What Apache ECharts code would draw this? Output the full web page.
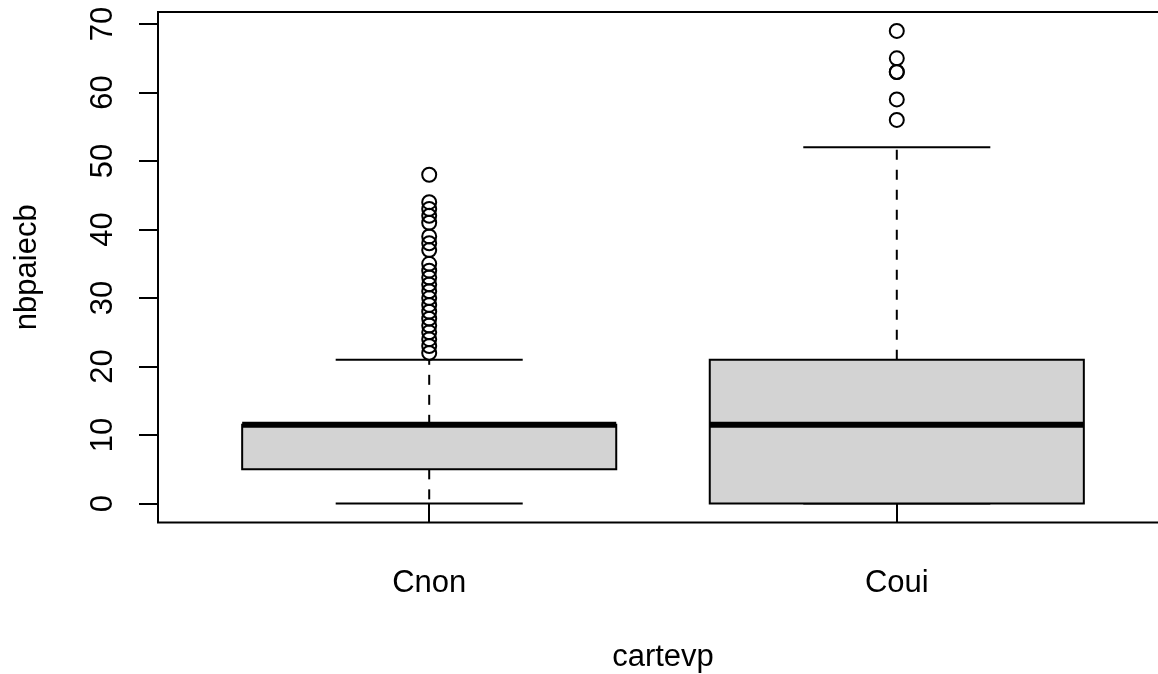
<!DOCTYPE html>
<html>
<head>
<meta charset="utf-8">
<script src="https://cdn.jsdelivr.net/npm/echarts@6/dist/echarts.min.js"></script>
<style>
html,body{margin:0;padding:0;background:#fff;}
#chart{width:1158px;height:674px;}
</style>
</head>
<body>
<div id="chart"></div>
<script>
const categories = ['Cnon', 'Coui'];
const lowerWhisker = [0, 0];
const q1 = [5, 0];
const median = [11.5, 11.5];
const q3 = [11.5, 21];
const upperWhisker = [21, 52];
const outliersCnon = [22, 23, 24, 25, 26, 27, 28, 29, 30, 31, 32, 33, 34, 35, 37, 38, 39, 41, 42, 43, 44, 48];
const outliersCoui = [56, 59, 63, 63, 65, 69];
const yTicks = [0, 10, 20, 30, 40, 50, 60, 70];
const xTicks = [1, 2];

const FONT = 'Liberation Sans';
const FS = 31;

const boxData = categories.map((c, i) => [i + 1, lowerWhisker[i], q1[i], median[i], q3[i], upperWhisker[i]]);
const outlierData = [];
outliersCnon.forEach(v => outlierData.push([1, v]));
outliersCoui.forEach(v => outlierData.push([2, v]));

const chart = echarts.init(document.getElementById('chart'), null, {renderer: 'canvas'});

function renderBox(params, api) {
  const x = api.value(0);
  const lo = api.value(1), a = api.value(2), m = api.value(3), b = api.value(4), hi = api.value(5);
  const halfBox = api.size([0.4, 0])[0];
  const halfCap = api.size([0.2, 0])[0];
  const pLo = api.coord([x, lo]);
  const pA = api.coord([x, a]);
  const pM = api.coord([x, m]);
  const pB = api.coord([x, b]);
  const pHi = api.coord([x, hi]);
  const cx = pM[0];
  const lw = 2;
  const children = [];
  children.push({type: 'line', shape: {x1: cx, y1: pB[1], x2: cx, y2: pHi[1]},
    style: {stroke: '#000', lineWidth: lw, lineDash: [10, 10]}});
  children.push({type: 'line', shape: {x1: cx, y1: pA[1], x2: cx, y2: pLo[1]},
    style: {stroke: '#000', lineWidth: lw, lineDash: [10, 10]}});
  children.push({type: 'line', shape: {x1: cx - halfCap, y1: pHi[1], x2: cx + halfCap, y2: pHi[1]},
    style: {stroke: '#000', lineWidth: lw}});
  children.push({type: 'line', shape: {x1: cx - halfCap, y1: pLo[1], x2: cx + halfCap, y2: pLo[1]},
    style: {stroke: '#000', lineWidth: lw}});
  children.push({type: 'rect', shape: {x: cx - halfBox, y: pB[1], width: 2 * halfBox, height: pA[1] - pB[1]},
    style: {fill: '#d3d3d3', stroke: '#000', lineWidth: lw}});
  children.push({type: 'line', shape: {x1: cx - halfBox, y1: pM[1], x2: cx + halfBox, y2: pM[1]},
    style: {stroke: '#000', lineWidth: 6}});
  return {type: 'group', children: children};
}

chart.setOption({
  animation: false,
  backgroundColor: '#fff',
  grid: {left: 158, top: 12, width: 1010, height: 510.5, containLabel: false, outerBoundsMode: 'none',
    show: true, borderColor: '#000', borderWidth: 2, backgroundColor: 'transparent'},
  xAxis: {
    type: 'value', min: 0.42, max: 2.58,
    name: 'cartevp', nameLocation: 'middle', nameGap: 119,
    nameTextStyle: {fontFamily: FONT, fontSize: FS, color: '#000'},
    axisLine: {show: false},
    splitLine: {show: false},
    axisTick: {show: true, customValues: xTicks, length: 19, lineStyle: {color: '#000', width: 2}},
    axisLabel: {customValues: xTicks, margin: 45, fontFamily: FONT, fontSize: FS, color: '#000',
      formatter: v => categories[Math.round(v) - 1]}
  },
  yAxis: {
    type: 'value', min: -2.76, max: 71.76,
    name: 'nbpaiecb', nameLocation: 'middle', nameGap: 115, nameRotate: 90,
    nameTextStyle: {fontFamily: FONT, fontSize: FS, color: '#000'},
    axisLine: {show: false},
    splitLine: {show: false},
    axisTick: {show: true, customValues: yTicks, length: 19, lineStyle: {color: '#000', width: 2}},
    axisLabel: {customValues: yTicks, rotate: 90, margin: 39, fontFamily: FONT, fontSize: FS, color: '#000'}
  },
  series: [
    {type: 'custom', renderItem: renderBox, data: boxData, clip: false, z: 2},
    {type: 'scatter', data: outlierData, symbol: 'circle', symbolSize: 14, z: 3,
      itemStyle: {color: 'transparent', borderColor: '#000', borderWidth: 2, opacity: 1}}
  ]
});
</script>
</body>
</html>
